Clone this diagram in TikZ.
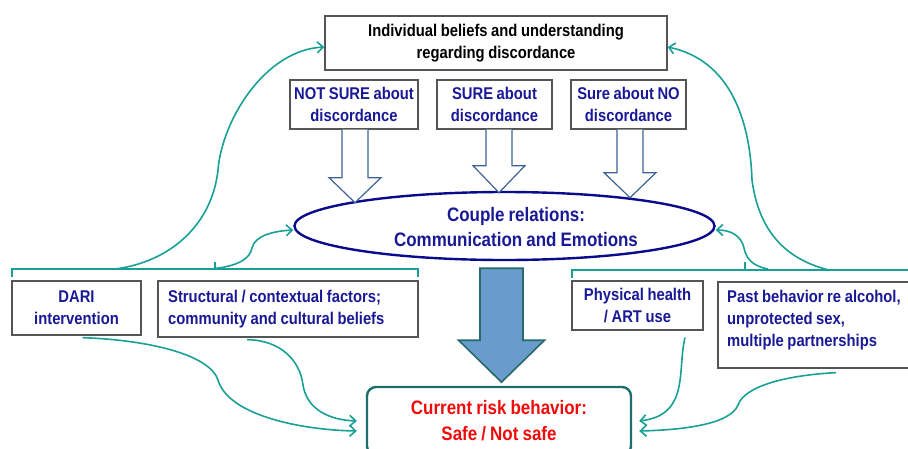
\documentclass[tikz,border=0pt]{standalone}
\usepackage{fontspec}
\setmainfont{Liberation Sans}[FakeStretch=0.87,WordSpace=0.87]
\usetikzlibrary{arrows.meta,shapes.geometric}
\definecolor{tealc}{RGB}{25,160,150}
\definecolor{navyt}{RGB}{25,25,150}
\definecolor{ellb}{RGB}{10,10,140}
\definecolor{boxb}{RGB}{85,85,85}
\definecolor{harr}{RGB}{60,100,150}
\definecolor{bigf}{RGB}{105,155,205}
\definecolor{bigb}{RGB}{40,105,105}
\definecolor{curb}{RGB}{30,110,110}
\definecolor{redt}{RGB}{240,10,10}
\begin{document}
\begin{tikzpicture}[x=1pt,y=-1pt,
  every node/.style={font=\bfseries\fontsize{17}{22}\selectfont, inner sep=0pt},
  gbox/.style={draw=boxb, line width=1.3pt, rectangle},
  bluetext/.style={text=navyt},
  conn/.style={draw=tealc, line width=1.6pt, -{Straight Barb[length=6pt,width=11pt]}},
  brk/.style={draw=tealc, line width=1.6pt},
  harrow/.style={draw=harr, line width=1.2pt, fill=white},
  bigarrow/.style={draw=bigb, line width=1.6pt, fill=bigf},
]
\useasboundingbox (0,0) rectangle (908,448);
\clip (0,0) rectangle (908,448);

% top box and the three belief boxes
\node[gbox, minimum width=342pt, minimum height=54pt, align=center] (indiv) at (496,43)
  {Individual beliefs and understanding\\regarding discordance};
\node[gbox, bluetext, minimum width=128pt, minimum height=49pt, align=center] (notsure) at (354,104.5)
  {NOT SURE about\\discordance};
\node[gbox, bluetext, minimum width=115pt, minimum height=49pt, align=center] (sure) at (494.5,104.5)
  {SURE about\\discordance};
\node[gbox, bluetext, minimum width=115pt, minimum height=49pt, align=center] (sureno) at (628.5,104.5)
  {Sure about NO\\discordance};

% ellipse
\node[draw=ellb, line width=2.4pt, ellipse, minimum width=420pt, minimum height=68pt] (couple) at (504.5,226) {};
\node[bluetext, font=\bfseries\fontsize{19.5}{25}\selectfont, align=center] (coupletxt) at (516,227)
  {Couple relations:\\Communication and Emotions};

% hollow arrows
\draw[harrow] ([xshift=-12pt]notsure.south) -- ++(0,48) -- ++(-13,0) -- ++(26,25) -- ++(26,-25) -- ++(-13,0) -- ++(0,-48);
\draw[harrow] ([xshift=-8.5pt]sure.south) -- ++(0,36) -- ++(-13,0) -- ++(26,27) -- ++(26,-27) -- ++(-13,0) -- ++(0,-36);
\draw[harrow] ([xshift=-11.5pt]sureno.south) -- ++(0,43) -- ++(-13,0) -- ++(26,25) -- ++(26,-25) -- ++(-13,0) -- ++(0,-43);

% big arrow
\draw[bigarrow] ([xshift=-24.5pt,yshift=-7pt]couple.south) -- ++(0,72) -- ++(-21.5,0) -- ++(43,42) -- ++(43,-42) -- ++(-21.5,0) -- ++(0,-72) -- cycle;

% current risk behaviour
\node[draw=curb, line width=2.4pt, rounded corners=9pt, minimum width=264pt, minimum height=68pt,
  text=redt, font=\bfseries\fontsize{19.5}{26}\selectfont, align=center] (current) at (499,421)
  {Current risk behavior:\\Safe / Not safe};

% bottom boxes
\node[gbox, bluetext, minimum width=129pt, minimum height=54pt, align=center] (dari) at (76.5,308)
  {DARI\\intervention};
\node[gbox, minimum width=260pt, minimum height=56pt] (struct) at (288,309) {};
\node[bluetext, align=left, anchor=west] (structtxt) at (168,309)
  {Structural / contextual factors;\\community and cultural beliefs};
\node[gbox, bluetext, minimum width=131pt, minimum height=49pt, align=center] (phys) at (637.5,305.5)
  {Physical health\\/ ART use};
\node[gbox, minimum width=197pt, minimum height=86pt] (past) at (816.5,325) {};
\node[bluetext, align=left, anchor=west] (pasttxt) at (727,320)
  {Past behavior re alcohol,\\unprotected sex,\\multiple partnerships};

% brackets
\coordinate (lbrA) at (12,277);
\coordinate (lbrB) at (418,277);
\coordinate (rbrA) at (572,278);
\coordinate (rbrB) at (920,270);
\draw[brk] (lbrA) -- (12,269) -- (418,269) -- (lbrB);
\draw[brk] (215,269) -- (215,262);
\draw[brk] (rbrA) -- (572,270) -- (rbrB);
\draw[brk] (745,270) -- (745,262);

\coordinate (bl1) at (115,269);
\coordinate (br1) at (829,270);
\coordinate (lmid) at (211,269);
\coordinate (rmid) at (768,269);

% connectors
\draw[conn] (bl1) .. controls (170,262) and (212,225) .. (218,170)
  .. controls (222,120) and (265,50) .. ([yshift=-4pt]indiv.west);
\draw[conn] (br1) .. controls (780,258) and (758,225) .. (752,180)
  .. controls (750,120) and (730,60) .. ([yshift=-4pt]indiv.east);
\draw[conn] (lmid) .. controls (240,266) and (250,258) .. (252,248)
  .. controls (255,235) and (275,231) .. ([yshift=-4pt]couple.west);
\draw[conn] (rmid) .. controls (752,266) and (746,258) .. (744,248)
  .. controls (741,235) and (730,230) .. ([yshift=-4pt]couple.east);
\draw[conn] ([xshift=6pt,yshift=-2pt]dari.south) .. controls (150,340) and (210,355) .. (218,380)
  .. controls (228,415) and (300,430) .. ([xshift=-9pt,yshift=-10pt]current.west);
\draw[conn] ([xshift=-41pt,yshift=-2pt]struct.south) .. controls (280,340) and (300,360) .. (303,385)
  .. controls (307,410) and (330,420) .. ([xshift=-9pt]current.west);
\draw[conn] ([xshift=47.5pt,yshift=-7pt]phys.south) .. controls (677,370) and (690,415) .. ([xshift=7pt]current.east);
\draw[conn] ([xshift=19.5pt,yshift=-4pt]past.south) .. controls (790,375) and (745,385) .. (738,405)
  .. controls (730,425) and (680,430) .. ([xshift=7pt,yshift=-10pt]current.east);
\end{tikzpicture}
\end{document}
